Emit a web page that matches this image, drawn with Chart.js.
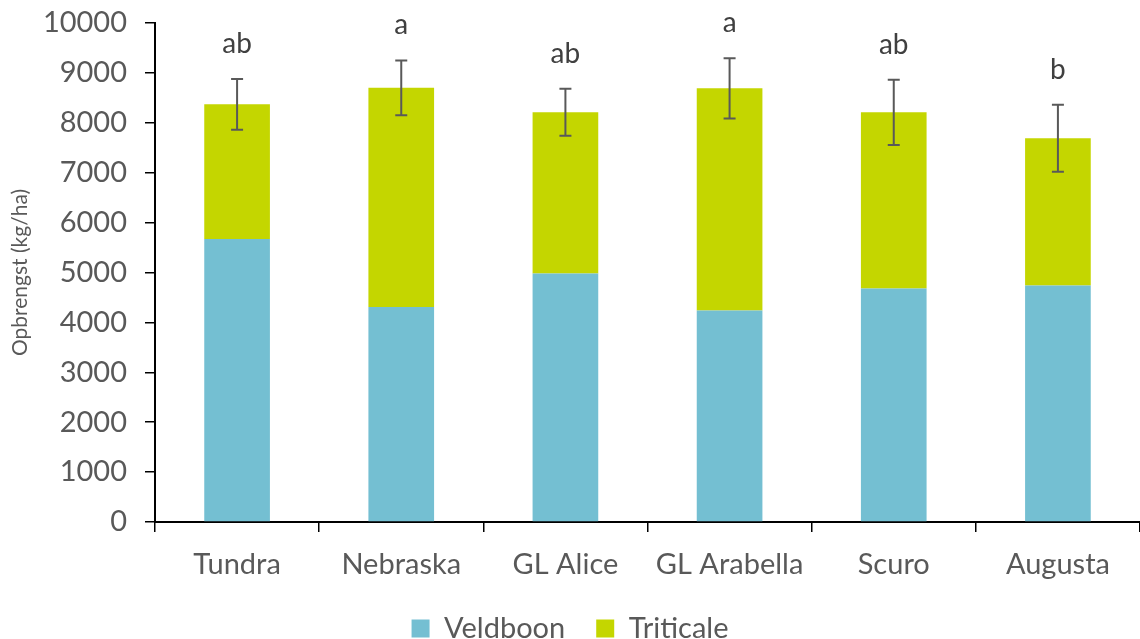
<!DOCTYPE html>
<html>
<head>
<meta charset="utf-8">
<script src="https://cdn.jsdelivr.net/npm/chart.js@4"></script>
<style>
  html, body { margin: 0; padding: 0; background: #fff; }
  #wrap { width: 1140px; height: 639px; }
</style>
</head>
<body>
<div id="wrap"><canvas id="grafiek"></canvas></div>
<script>
const categories = ["Tundra", "Nebraska", "GL Alice", "GL Arabella", "Scuro", "Augusta"];
const veldboon = [5670, 4310, 4980, 4240, 4680, 4740];
const triticale = [2700, 4390, 3230, 4450, 3530, 2950];
const foutmarge = [510, 550, 470, 605, 655, 670];
const letters = ["ab", "a", "ab", "a", "ab", "b"];
const yMin = 0, yMax = 10000, yStap = 1000;

const tekstKleur = "#595959";
const lettertype = "Lato, 'Open Sans', sans-serif";

// legenda: brede ruimte tussen items, maar minder verticale ruimte
const legendaPlugin = Chart.registry.getPlugin("legend");
if (legendaPlugin && legendaPlugin._element) {
    const origFit = legendaPlugin._element.prototype.fit;
    legendaPlugin._element.prototype.fit = function () {
        origFit.call(this);
        if (this.isHorizontal()) this.height -= 14;
    };
}

// foutbalken en letters boven de gestapelde staven
const foutbalkPlugin = {
    id: "foutbalken",
    afterDatasetsDraw(chart) {
        const { ctx, scales: { x, y } } = chart;
        ctx.save();
        categories.forEach((cat, i) => {
            const totaal = veldboon[i] + triticale[i];
            const cx = x.getPixelForValue(i);
            const boven = y.getPixelForValue(totaal + foutmarge[i]);
            const onder = y.getPixelForValue(totaal - foutmarge[i]);
            ctx.strokeStyle = tekstKleur;
            ctx.lineWidth = 2;
            ctx.beginPath();
            ctx.moveTo(cx, boven); ctx.lineTo(cx, onder);
            ctx.moveTo(cx - 6, boven); ctx.lineTo(cx + 6, boven);
            ctx.moveTo(cx - 6, onder); ctx.lineTo(cx + 6, onder);
            ctx.stroke();

            ctx.fillStyle = "#404040";
            ctx.font = "28px " + lettertype;
            ctx.textAlign = "center";
            ctx.textBaseline = "alphabetic";
            ctx.fillText(letters[i], cx, boven - 26);
        });
        ctx.restore();
    }
};

new Chart(document.getElementById("grafiek"), {
    type: "bar",
    data: {
        labels: categories,
        datasets: [
            { label: "Veldboon", data: veldboon, backgroundColor: "#74BFD2", barPercentage: 0.4, categoryPercentage: 1 },
            { label: "Triticale", data: triticale, backgroundColor: "#C4D600", barPercentage: 0.4, categoryPercentage: 1 }
        ]
    },
    options: {
        responsive: true,
        maintainAspectRatio: false,
        animation: false,
        layout: { padding: { top: 23, right: 0, left: 0, bottom: 0 } },
        plugins: {
            legend: {
                position: "bottom",
                labels: {
                    boxWidth: 18,
                    boxHeight: 18,
                    padding: 31,
                    color: tekstKleur,
                    font: { family: lettertype, size: 29 }
                }
            },
            tooltip: { enabled: false }
        },
        scales: {
            x: {
                stacked: true,
                border: { display: true, color: "#000", width: 2 },
                grid: { offset: true, drawOnChartArea: false, drawTicks: true, tickLength: 10, color: "#000", lineWidth: 1.5 },
                ticks: { color: tekstKleur, padding: 15, font: { family: lettertype, size: 29 } },
                afterFit(scale) { scale.height = 61; }
            },
            y: {
                stacked: true,
                min: yMin,
                max: yMax,
                border: { display: true, color: "#000", width: 2 },
                grid: { drawOnChartArea: false, drawTicks: true, tickLength: 10, color: "#000", lineWidth: 1.5 },
                ticks: {
                    stepSize: yStap,
                    color: tekstKleur,
                    padding: 18,
                    font: { family: lettertype, size: 29 },
                    callback: v => String(v)
                },
                title: {
                    display: true,
                    text: "Opbrengst (kg/ha)",
                    color: tekstKleur,
                    font: { family: lettertype, size: 21 },
                    padding: { top: 8, bottom: 0 }
                },
                afterFit(scale) {
                    scale.width = 155;
                    scale.paddingTop = 0;
                    scale.paddingBottom = 0;
                }
            }
        }
    },
    plugins: [foutbalkPlugin]
});
</script>
</body>
</html>
